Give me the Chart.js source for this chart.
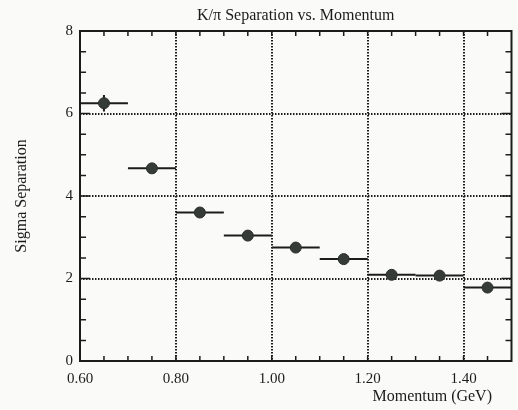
<!DOCTYPE html>
<html>
<head>
<meta charset="utf-8">
<title>K/π Separation vs. Momentum</title>
<script src="https://cdn.jsdelivr.net/npm/chart.js@4/dist/chart.umd.min.js"></script>
<style>
  html, body { margin: 0; padding: 0; background: #fafaf8; }
  canvas { display: block; }
</style>
</head>
<body>
<canvas id="sepChart" width="518" height="410"></canvas>
<script>
// Momentum bins (GeV) and K/pi sigma separation per bin
const momentum = [0.65, 0.75, 0.85, 0.95, 1.05, 1.15, 1.25, 1.35, 1.45];
const binHalfWidth = [0.05, 0.05, 0.05, 0.05, 0.05, 0.05, 0.05, 0.05, 0.05];
const separation = [6.25, 4.67, 3.60, 3.04, 2.75, 2.47, 2.09, 2.07, 1.78];
const separationErr = [0.20, 0.06, 0.05, 0.05, 0.05, 0.05, 0.05, 0.05, 0.05];

const xTickValues = [0.6, 0.8, 1.0, 1.2, 1.4];
const yTickValues = [0, 2, 4, 6, 8];

const ink = "#1c1c1c";
const serif = "'Liberation Serif', 'DejaVu Serif', serif";

// frame, dotted grid, inward ticks, error bars and titles
const framePlugin = {
    id: "frame",
    beforeDatasetsDraw(chart) {
        const { ctx, chartArea: a, scales: { x, y } } = chart;
        ctx.save();
        ctx.strokeStyle = ink;

        // dotted grid
        ctx.lineWidth = 2;
        ctx.setLineDash([1.5, 1.5]);
        xTickValues.forEach(v => {
            const px = Math.round(x.getPixelForValue(v));
            if (px <= a.left + 2 || px >= a.right - 2) return;
            ctx.beginPath(); ctx.moveTo(px, a.top); ctx.lineTo(px, a.bottom); ctx.stroke();
        });
        yTickValues.forEach(v => {
            const py = Math.round(y.getPixelForValue(v));
            if (py <= a.top + 2 || py >= a.bottom - 2) return;
            ctx.beginPath(); ctx.moveTo(a.left, py); ctx.lineTo(a.right, py); ctx.stroke();
        });
        ctx.setLineDash([]);

        // minor ticks pointing inward
        ctx.lineWidth = 1.5;
        for (let v = 0.65; v < x.max - 0.001; v += 0.05) {
            const px = x.getPixelForValue(v);
            ctx.beginPath();
            ctx.moveTo(px, a.bottom); ctx.lineTo(px, a.bottom - 5);
            ctx.moveTo(px, a.top); ctx.lineTo(px, a.top + 5);
            ctx.stroke();
        }
        for (let v = 0.5; v < y.max - 0.01; v += 0.5) {
            const py = y.getPixelForValue(v);
            const len = yTickValues.includes(v) ? 10 : 6;
            ctx.beginPath();
            ctx.moveTo(a.left, py); ctx.lineTo(a.left + len, py);
            ctx.moveTo(a.right, py); ctx.lineTo(a.right - len, py);
            ctx.stroke();
        }

        // frame
        ctx.lineWidth = 2;
        ctx.strokeRect(a.left, a.top, a.right - a.left, a.bottom - a.top);

        // error bars
        ctx.lineWidth = 2;
        momentum.forEach((m, i) => {
            const py = y.getPixelForValue(separation[i]);
            const px = x.getPixelForValue(m);
            ctx.beginPath();
            ctx.moveTo(x.getPixelForValue(m - binHalfWidth[i]), py);
            ctx.lineTo(x.getPixelForValue(m + binHalfWidth[i]), py);
            ctx.moveTo(px, y.getPixelForValue(separation[i] - separationErr[i]));
            ctx.lineTo(px, y.getPixelForValue(separation[i] + separationErr[i]));
            ctx.stroke();
        });
        ctx.restore();
    },
    afterDraw(chart) {
        const { ctx, chartArea: a } = chart;
        ctx.save();
        ctx.fillStyle = ink;
        ctx.font = "16px " + serif;
        ctx.textAlign = "center";
        ctx.textBaseline = "middle";
        ctx.fillText("K/\u03c0 Separation vs. Momentum", (a.left + a.right) / 2, 16);

        ctx.textAlign = "right";
        ctx.fillText("Momentum (GeV)", 492, 397);

        ctx.translate(22, (a.top + a.bottom) / 2);
        ctx.rotate(-Math.PI / 2);
        ctx.textAlign = "center";
        ctx.fillText("Sigma Separation", 0, 0);
        ctx.restore();
    }
};

new Chart(document.getElementById("sepChart").getContext("2d"), {
    type: "scatter",
    data: {
        datasets: [{
            data: momentum.map((m, i) => ({ x: m, y: separation[i] })),
            backgroundColor: "#353b37",
            borderColor: "#2a2e2b",
            borderWidth: 1,
            pointRadius: 5.5,
            pointHoverRadius: 5.5
        }]
    },
    options: {
        responsive: false,
        animation: false,
        layout: { padding: { top: 31, right: 3, left: 0, bottom: 0 } },
        plugins: { legend: { display: false }, title: { display: false }, tooltip: { enabled: false } },
        scales: {
            x: {
                type: "linear",
                min: 0.6,
                max: 1.5,
                afterFit: s => { s.height = 49; },
                afterBuildTicks: s => { s.ticks = xTickValues.map(v => ({ value: v })); },
                grid: { display: false, drawTicks: false },
                border: { display: false },
                ticks: {
                    padding: 9,
                    color: ink,
                    font: { family: serif, size: 15 },
                    callback: v => Number(v).toFixed(2),
                    maxRotation: 0,
                    autoSkip: false
                }
            },
            y: {
                min: 0,
                max: 8,
                afterFit: s => { s.width = 80; },
                afterBuildTicks: s => { s.ticks = yTickValues.map(v => ({ value: v })); },
                grid: { display: false, drawTicks: false },
                border: { display: false },
                ticks: {
                    padding: 7,
                    color: ink,
                    font: { family: serif, size: 15 }
                }
            }
        }
    },
    plugins: [framePlugin]
});
</script>
</body>
</html>
